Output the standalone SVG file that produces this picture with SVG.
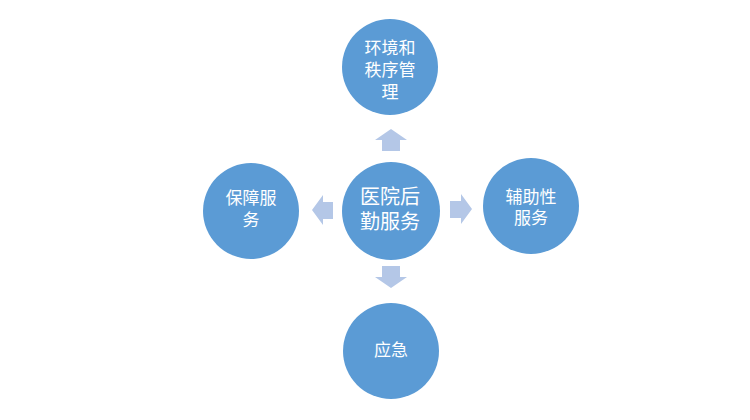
<svg xmlns="http://www.w3.org/2000/svg" width="750" height="420" viewBox="0 0 750 420">
<style>
.node{fill:#5B9BD5;}
.arr{fill:#B4C7E7;}
text{fill:#fff;font-family:"Noto Sans CJK SC","Liberation Sans",sans-serif;text-anchor:middle;}
.s{font-size:17px;}
.c{font-size:20px;}
</style>
<rect width="750" height="420" fill="#fff"/>
<g id="connectors">
<path class="arr" d="M391,129 L407,140 L400,140 L400,151 L382,151 L382,140 L375,140 Z"/>
<path class="arr" d="M391,288 L407,277 L400,277 L400,266 L382,266 L382,277 L375,277 Z"/>
<path class="arr" d="M312,210 L323,195 L323,202 L333,202 L333,219 L323,219 L323,225 Z"/>
<path class="arr" d="M472,209 L461,194 L461,201 L450,201 L450,218 L461,218 L461,224 Z"/>
</g>
<g id="center">
<circle class="node" cx="391" cy="211" r="49"/>
<text class="c"><tspan x="390" y="204">医院后</tspan><tspan x="390" y="229">勤服务</tspan></text>
</g>
<g id="top">
<circle class="node" cx="390" cy="67" r="48"/>
<text class="s"><tspan x="390" y="54">环境和</tspan><tspan x="390" y="76">秩序管</tspan><tspan x="390" y="98">理</tspan></text>
</g>
<g id="left">
<circle class="node" cx="251" cy="211" r="48"/>
<text class="s"><tspan x="251" y="204">保障服</tspan><tspan x="251" y="226">务</tspan></text>
</g>
<g id="right">
<circle class="node" cx="531" cy="206" r="48"/>
<text class="s"><tspan x="531" y="203">辅助性</tspan><tspan x="531" y="224">服务</tspan></text>
</g>
<g id="bottom">
<circle class="node" cx="391" cy="351" r="48"/>
<text class="s" x="391" y="356">应急</text>
</g>
</svg>
